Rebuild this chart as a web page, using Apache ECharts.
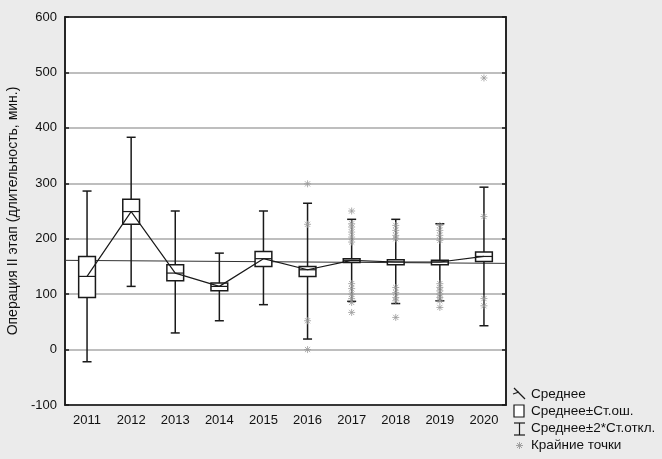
<!DOCTYPE html>
<html>
<head>
<meta charset="utf-8">
<script src="https://cdn.jsdelivr.net/npm/echarts@6/dist/echarts.min.js"></script>
<style>
html,body{margin:0;padding:0;background:#ebebeb;}
#c{width:662px;height:459px;}
</style>
</head>
<body>
<div id="c"></div>
<script>
const years = ['2011','2012','2013','2014','2015','2016','2017','2018','2019','2020'];
const yTicks = [-100, 0, 100, 200, 300, 400, 500, 600];
const means  = [132, 249, 138, 114, 164, 144, 161, 158, 158, 168];
const seLow  = [94, 226, 124, 106, 150, 132, 157, 153, 153, 159];
const seHigh = [168, 271, 153, 120, 177, 150, 164, 162, 161, 176];
const sdLow  = [-22, 114, 30, 52, 81, 19, 87, 83, 88, 43];
const sdHigh = [286, 383, 250, 174, 250, 264, 235, 235, 227, 293];
const outlierYear  = ['2016','2016','2016','2016',
  '2017','2017','2017','2017','2017','2017','2017','2017','2017','2017','2017','2017',
  '2018','2018','2018','2018','2018','2018','2018','2018','2018',
  '2019','2019','2019','2019','2019','2019','2019','2019','2019','2019','2019',
  '2020','2020','2020','2020'];
const outlierValue = [299, 226, 52, 0,
  250, 227, 221, 212, 203, 194, 119, 110, 100, 92, 85, 67,
  224, 215, 206, 200, 112, 103, 94, 88, 58,
  224, 215, 206, 197, 119, 112, 106, 100, 94, 88, 76,
  490, 240, 92, 79];
const trendLine = [161, 155.5];

const FONT = "'Liberation Sans', Arial, sans-serif";
const DARK = '#1a1a1a';

const chart = echarts.init(document.getElementById('c'), null, {renderer:'canvas'});

const boxData = years.map((y,i)=>[i, seLow[i], seHigh[i], means[i]]);
const whiskerData = years.map((y,i)=>[i, sdLow[i], sdHigh[i]]);
const outlierData = outlierYear.map((y,i)=>[years.indexOf(y), outlierValue[i]]);

const option = {
  backgroundColor: '#ebebeb',
  animation: false,
  textStyle: {fontFamily: FONT},
  grid: {left: 65, right: 156, top: 17, bottom: 54, show: true, containLabel: false,
         outerBoundsMode: 'none',
         backgroundColor: '#ffffff', borderColor: DARK, borderWidth: 1.5},
  xAxis: [
    {type: 'category', data: years, position: 'bottom', boundaryGap: true,
     axisLine: {onZero: false, lineStyle: {color: DARK, width: 1.5}},
     axisTick: {inside: true, alignWithLabel: true, length: 4, lineStyle: {color: DARK, width: 1.5}},
     axisLabel: {color: '#111', fontSize: 13, margin: 9, fontFamily: FONT},
     splitLine: {show: false}},
    {type: 'category', data: years, position: 'top', boundaryGap: true,
     axisLine: {onZero: false, lineStyle: {color: DARK, width: 1.5}},
     axisTick: {inside: true, alignWithLabel: true, length: 4, lineStyle: {color: DARK, width: 1.5}},
     axisLabel: {show: false}, splitLine: {show: false}},
    {type: 'value', min: 0, max: 1, show: false}
  ],
  yAxis: [
    {type: 'value', min: -100, max: 600, interval: 100,
     name: 'Операция II этап (длительность, мин.)', nameLocation: 'middle', nameGap: 44,
     nameTextStyle: {color: '#111', fontSize: 14, fontFamily: FONT},
     axisLine: {show: true, onZero: false, lineStyle: {color: DARK, width: 1.5}},
     axisTick: {show: true, inside: true, length: 4, lineStyle: {color: DARK, width: 1.5}},
     axisLabel: {color: '#111', fontSize: 13, margin: 8, fontFamily: FONT},
     splitLine: {show: true, lineStyle: {color: '#a8a8a8', width: 1.5}}},
    {type: 'value', min: -100, max: 600, interval: 100, position: 'right',
     axisLine: {show: true, onZero: false, lineStyle: {color: DARK, width: 1.5}},
     axisTick: {show: true, inside: true, length: 4, lineStyle: {color: DARK, width: 1.5}},
     axisLabel: {show: false}, splitLine: {show: false}}
  ],
  series: [
    {name: 'trend', type: 'line', xAxisIndex: 2, yAxisIndex: 0,
     data: [[0, trendLine[0]], [1, trendLine[1]]], symbol: 'none', z: 3,
     lineStyle: {color: '#333', width: 1}},
    {name: 'Среднее±2*Ст.откл.', type: 'custom', xAxisIndex: 0, yAxisIndex: 0, z: 4,
     data: whiskerData,
     renderItem: function(params, api){
       const i = api.value(0);
       const lo = api.coord([i, api.value(1)]);
       const hi = api.coord([i, api.value(2)]);
       const cw = 4.5;
       const st = {stroke: DARK, lineWidth: 1.5};
       return {type: 'group', children: [
         {type:'line', shape:{x1:lo[0], y1:lo[1], x2:hi[0], y2:hi[1]}, style: st},
         {type:'line', shape:{x1:lo[0]-cw, y1:lo[1], x2:lo[0]+cw, y2:lo[1]}, style: st},
         {type:'line', shape:{x1:hi[0]-cw, y1:hi[1], x2:hi[0]+cw, y2:hi[1]}, style: st}
       ]};
     }},
    {name: 'Среднее±Ст.ош.', type: 'custom', xAxisIndex: 0, yAxisIndex: 0, z: 5,
     data: boxData,
     renderItem: function(params, api){
       const i = api.value(0);
       const lo = api.coord([i, api.value(1)]);
       const hi = api.coord([i, api.value(2)]);
       const m = api.coord([i, api.value(3)]);
       const w = api.size([1, 0])[0] * 0.38;
       return {type: 'group', children: [
         {type:'rect', shape:{x: lo[0]-w/2, y: hi[1], width: w, height: lo[1]-hi[1]},
          style:{fill:'#ffffff', stroke: DARK, lineWidth: 1.5}},
         {type:'line', shape:{x1: lo[0]-w/2, y1: m[1], x2: lo[0]+w/2, y2: m[1]},
          style:{stroke: DARK, lineWidth: 1.2}}
       ]};
     }},
    {name: 'Среднее', type: 'line', xAxisIndex: 0, yAxisIndex: 0, z: 6,
     data: means, symbol: 'none', lineStyle: {color: DARK, width: 1.2}},
    {name: 'Крайние точки', type: 'custom', xAxisIndex: 0, yAxisIndex: 0, z: 7,
     data: outlierData,
     renderItem: function(params, api){
       const p = api.coord([api.value(0), api.value(1)]);
       const r = 3.5, d = 2.6;
       const st = {stroke: '#999999', lineWidth: 0.8};
       return {type: 'group', children: [
         {type:'line', shape:{x1:p[0]-r, y1:p[1], x2:p[0]+r, y2:p[1]}, style: st},
         {type:'line', shape:{x1:p[0], y1:p[1]-r, x2:p[0], y2:p[1]+r}, style: st},
         {type:'line', shape:{x1:p[0]-d, y1:p[1]-d, x2:p[0]+d, y2:p[1]+d}, style: st},
         {type:'line', shape:{x1:p[0]-d, y1:p[1]+d, x2:p[0]+d, y2:p[1]-d}, style: st}
       ]};
     }}
  ],
  graphic: [
    {type:'line', shape:{x1:514, y1:388, x2:525, y2:399}, style:{stroke:DARK, lineWidth:1.2}},
    {type:'line', shape:{x1:513, y1:394, x2:519, y2:392}, style:{stroke:DARK, lineWidth:1.2}},
    {type:'rect', shape:{x:514, y:405, width:10, height:12}, style:{fill:'#ffffff', stroke:DARK, lineWidth:1.2}},
    {type:'line', shape:{x1:514, y1:423, x2:525, y2:423}, style:{stroke:DARK, lineWidth:1.2}},
    {type:'line', shape:{x1:519.5, y1:423, x2:519.5, y2:435}, style:{stroke:DARK, lineWidth:1.2}},
    {type:'line', shape:{x1:514, y1:435, x2:525, y2:435}, style:{stroke:DARK, lineWidth:1.2}},
    {type:'line', shape:{x1:516, y1:445.5, x2:523, y2:445.5}, style:{stroke:'#9a9a9a', lineWidth:0.9}},
    {type:'line', shape:{x1:519.5, y1:442, x2:519.5, y2:449}, style:{stroke:'#9a9a9a', lineWidth:0.9}},
    {type:'line', shape:{x1:517, y1:443, x2:522, y2:448}, style:{stroke:'#9a9a9a', lineWidth:0.9}},
    {type:'line', shape:{x1:517, y1:448, x2:522, y2:443}, style:{stroke:'#9a9a9a', lineWidth:0.9}},
    {type:'text', x:531, y:394, style:{text:'Среднее', fill:'#111', font:'13.5px ' + FONT, textVerticalAlign:'middle'}},
    {type:'text', x:531, y:411, style:{text:'Среднее±Ст.ош.', fill:'#111', font:'13.5px ' + FONT, textVerticalAlign:'middle'}},
    {type:'text', x:531, y:428, style:{text:'Среднее±2*Ст.откл.', fill:'#111', font:'13.5px ' + FONT, textVerticalAlign:'middle'}},
    {type:'text', x:531, y:445.5, style:{text:'Крайние точки', fill:'#111', font:'13.5px ' + FONT, textVerticalAlign:'middle'}}
  ]
};
chart.setOption(option);
</script>
</body>
</html>
